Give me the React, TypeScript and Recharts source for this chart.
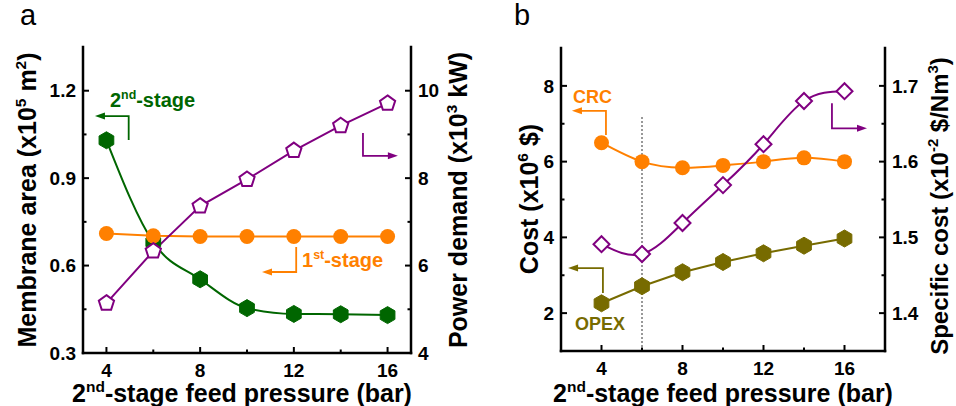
import React from "react";
import { ComposedChart, Line, XAxis, YAxis, ReferenceLine, ReferenceDot } from "recharts";

const FONT = '"Liberation Sans", Arial, Helvetica, sans-serif';

// x values: 2nd-stage feed pressure (bar)
const pressure = [4, 6, 8, 10, 12, 14, 16];
// panel a
const area2nd = [1.03, 0.68, 0.553, 0.454, 0.434, 0.433, 0.43];
const area1st = [0.71, 0.702, 0.7, 0.7, 0.7, 0.7, 0.7];
const power = [5.14, 6.33, 7.36, 7.97, 8.63, 9.2, 9.71];
// panel b
const crc = [6.5, 6.0, 5.84, 5.9, 6.0, 6.1, 6.0];
const opex = [2.26, 2.71, 3.08, 3.35, 3.58, 3.78, 3.97];
const specCost = [1.491, 1.478, 1.519, 1.569, 1.623, 1.68, 1.693];

// ticks
const xTicks = [4, 6, 8, 10, 12, 14, 16];
const xMajor = [4, 8, 12, 16];
const areaTicks = [0.3, 0.45, 0.6, 0.75, 0.9, 1.05, 1.2];
const areaMajor = [0.3, 0.6, 0.9, 1.2];
const powerTicks = [4, 5, 6, 7, 8, 9, 10];
const powerMajor = [4, 6, 8, 10];
const costTicks = [2, 3, 4, 5, 6, 7, 8];
const costMajor = [2, 4, 6, 8];
const specTicks = [1.4, 1.45, 1.5, 1.55, 1.6, 1.65, 1.7];
const specMajor = [1.4, 1.5, 1.6, 1.7];

const GREEN = "#006600";
const ORANGE = "#ff8000";
const PURPLE = "#800080";
const OLIVE = "#776b00";

const rows = pressure.map((p, i) => ({
  p,
  area2nd: area2nd[i],
  area1st: area1st[i],
  power: power[i],
  crc: crc[i],
  opex: opex[i],
  specCost: specCost[i],
}));

type Part = [string, boolean?];

function Rich({ parts, fs }: { parts: Part[]; fs: number }) {
  const shift = fs * 0.4;
  let cur = 0;
  return (
    <>
      {parts.map(([t, s], i) => {
        const target = s ? -shift : 0;
        const dy = target - cur;
        cur = target;
        return (
          <tspan key={i} dy={dy} fontSize={s ? fs * 0.62 : fs}>
            {t}
          </tspan>
        );
      })}
    </>
  );
}

const title = (parts: Part[], x: number, y: number, rotate = false, fs = 25) => () => (
  <text
    x={x}
    y={y}
    textAnchor="middle"
    fontFamily={FONT}
    fontWeight="bold"
    fontSize={fs}
    fill="#000"
    transform={rotate ? `rotate(-90 ${x} ${y})` : undefined}
  >
    <Rich parts={parts} fs={fs} />
  </text>
);

const isIn = (arr: number[], v: number) => arr.some((m) => Math.abs(m - v) < 1e-9);

const makeTick =
  (side: "bottom" | "left" | "right", major: number[], digits: number) => (props: any) => {
    const { x, y, payload } = props;
    const v = payload.value;
    const big = isIn(major, v);
    const len = big ? 6 : 3.5;
    const label = big ? v.toFixed(digits) : "";
    const txt = { fontFamily: FONT, fontWeight: "bold" as const, fontSize: 19, fill: "#000" };
    if (side === "bottom") {
      return (
        <g>
          <line x1={x} x2={x} y1={y} y2={y - len} stroke="#000" strokeWidth={2} />
          <text x={x} y={y + 24} textAnchor="middle" {...txt}>{label}</text>
        </g>
      );
    }
    if (side === "left") {
      return (
        <g>
          <line x1={x} x2={x + len} y1={y} y2={y} stroke="#000" strokeWidth={2} />
          <text x={x - 7} y={y} dy="0.35em" textAnchor="end" {...txt}>{label}</text>
        </g>
      );
    }
    return (
      <g>
        <line x1={x} x2={x - len} y1={y} y2={y} stroke="#000" strokeWidth={2} />
        <text x={x + 7} y={y} dy="0.35em" textAnchor="start" {...txt}>{label}</text>
      </g>
    );
  };

const polyPoints = (cx: number, cy: number, r: number, n: number) =>
  Array.from({ length: n }, (_, k) => {
    const a = -Math.PI / 2 + (k * 2 * Math.PI) / n;
    return `${cx + r * Math.cos(a)},${cy + r * Math.sin(a)}`;
  }).join(" ");

const polyDot = (n: number, r: number, color: string, hollow: boolean) => (props: any) => {
  const { cx, cy, index } = props;
  if (cx == null || cy == null) return <g key={index} />;
  return (
    <polygon
      key={index}
      points={polyPoints(cx, cy, r, n)}
      fill={hollow ? "#fff" : color}
      stroke={color}
      strokeWidth={hollow ? 2 : 1}
      strokeLinejoin="miter"
    />
  );
};

const circleDot = (r: number, color: string) => (props: any) => {
  const { cx, cy, index } = props;
  if (cx == null || cy == null) return <g key={index} />;
  return <circle key={index} cx={cx} cy={cy} r={r} fill={color} />;
};

const arrowShape = (color: string) => (props: any) => {
  const { x1, y1, x2, y2 } = props;
  const dir = x2 > x1 ? 1 : -1;
  return (
    <g>
      <path
        d={`M${x1},${y1} V${y2} H${x2 - dir * 7}`}
        stroke={color}
        strokeWidth={1.8}
        fill="none"
      />
      <path
        d={`M${x2},${y2} L${x2 - dir * 10},${y2 - 3.5} L${x2 - dir * 10},${y2 + 3.5} Z`}
        fill={color}
      />
    </g>
  );
};

const textShape = (parts: Part[], color: string, fs: number) => (props: any) => (
  <text x={props.cx} y={props.cy} fontFamily={FONT} fontWeight="bold" fontSize={fs} fill={color}>
    <Rich parts={parts} fs={fs} />
  </text>
);

const frameLine = { stroke: "#000", strokeWidth: 2.5, strokeLinecap: "square" as const };

function PanelA() {
  return (
    <ComposedChart width={478} height={406} data={rows} margin={{ top: 47, right: 0, bottom: 0, left: 0 }}>
      <XAxis
        dataKey="p"
        type="number"
        domain={[3, 17]}
        ticks={xTicks}
        interval={0}
        height={53}
        tickSize={0}
        tickMargin={0}
        tickLine={false}
        axisLine={frameLine}
        tick={makeTick("bottom", xMajor, 0)}
        label={{ content: title([["2"], ["nd", true], ["-stage feed pressure (bar)"]], 242, 402) }}
      />
      <XAxis xAxisId="top" orientation="top" dataKey="p" type="number" domain={[3, 17]} height={0} tick={false} tickLine={false} axisLine={frameLine} />
      <YAxis
        yAxisId="L"
        type="number"
        domain={[0.3, 1.35]}
        ticks={areaTicks}
        interval={0}
        width={83}
        tickSize={0}
        tickMargin={0}
        tickLine={false}
        axisLine={frameLine}
        tick={makeTick("left", areaMajor, 1)}
        label={{ content: title([["Membrane area (x10"], ["5", true], [" m"], ["2", true], [")"]], 36, 200, true) }}
      />
      <YAxis
        yAxisId="R"
        orientation="right"
        type="number"
        domain={[4, 11]}
        ticks={powerTicks}
        interval={0}
        width={67}
        tickSize={0}
        tickMargin={0}
        tickLine={false}
        axisLine={frameLine}
        tick={makeTick("right", powerMajor, 0)}
        label={{ content: title([["Power demand (x10"], ["3", true], [" kW)"]], 467, 200, true) }}
      />
      <Line yAxisId="L" dataKey="area2nd" type="monotone" stroke={GREEN} strokeWidth={2} dot={polyDot(6, 8.5, GREEN, false)} isAnimationActive={false} />
      <Line yAxisId="L" dataKey="area1st" type="linear" stroke={ORANGE} strokeWidth={2} dot={circleDot(7.5, ORANGE)} isAnimationActive={false} />
      <Line yAxisId="R" dataKey="power" type="linear" stroke={PURPLE} strokeWidth={2} dot={polyDot(5, 8, PURPLE, true)} isAnimationActive={false} />
      <ReferenceLine yAxisId="L" segment={[{ x: 4.95, y: 1.031 }, { x: 3.51, y: 1.113 }]} shape={arrowShape(GREEN)} />
      <ReferenceDot yAxisId="L" x={4.15} y={1.144} shape={textShape([["2"], ["nd", true], ["-stage"]], GREEN, 20)} />
      <ReferenceLine yAxisId="L" segment={[{ x: 12.1, y: 0.664 }, { x: 10.64, y: 0.578 }]} shape={arrowShape(ORANGE)} />
      <ReferenceDot yAxisId="L" x={12.35} y={0.595} shape={textShape([["1"], ["st", true], ["-stage"]], ORANGE, 20)} />
      <ReferenceLine yAxisId="R" segment={[{ x: 14.95, y: 9.03 }, { x: 16.44, y: 8.51 }]} shape={arrowShape(PURPLE)} />
    </ComposedChart>
  );
}

function PanelB() {
  return (
    <ComposedChart width={478} height={406} data={rows} margin={{ top: 48, right: 0, bottom: 0, left: 0 }}>
      <XAxis
        dataKey="p"
        type="number"
        domain={[2, 18]}
        ticks={xTicks}
        interval={0}
        height={55}
        tickSize={0}
        tickMargin={0}
        tickLine={false}
        axisLine={frameLine}
        tick={makeTick("bottom", xMajor, 0)}
        label={{ content: title([["2"], ["nd", true], ["-stage feed pressure (bar)"]], 245, 402) }}
      />
      <XAxis xAxisId="top" orientation="top" dataKey="p" type="number" domain={[2, 18]} height={0} tick={false} tickLine={false} axisLine={frameLine} />
      <YAxis
        yAxisId="L"
        type="number"
        domain={[1, 9]}
        ticks={costTicks}
        interval={0}
        width={83}
        tickSize={0}
        tickMargin={0}
        tickLine={false}
        axisLine={frameLine}
        tick={makeTick("left", costMajor, 0)}
        label={{ content: title([["Cost (x10"], ["6", true], [" $)"]], 60, 199, true) }}
      />
      <YAxis
        yAxisId="R"
        orientation="right"
        type="number"
        domain={[1.35, 1.75]}
        ticks={specTicks}
        interval={0}
        width={71}
        tickSize={0}
        tickMargin={0}
        tickLine={false}
        axisLine={frameLine}
        tick={makeTick("right", specMajor, 1)}
        label={{ content: title([["Specific cost (x10"], ["-2", true], [" $/Nm"], ["3", true], [")"]], 470, 206, true, 24) }}
      />
      <ReferenceLine yAxisId="L" segment={[{ x: 6, y: 1 }, { x: 6, y: 7.2 }]} stroke="#777" strokeWidth={1.5} strokeDasharray="2 2" />
      <Line yAxisId="L" dataKey="opex" type="linear" stroke={OLIVE} strokeWidth={2} dot={polyDot(6, 8.5, OLIVE, false)} isAnimationActive={false} />
      <Line yAxisId="L" dataKey="crc" type="natural" stroke={ORANGE} strokeWidth={2} dot={circleDot(7.5, ORANGE)} isAnimationActive={false} />
      <Line yAxisId="R" dataKey="specCost" type="natural" stroke={PURPLE} strokeWidth={2} dot={polyDot(4, 8, PURPLE, true)} isAnimationActive={false} />
      <ReferenceLine yAxisId="L" segment={[{ x: 4.22, y: 6.7 }, { x: 2.54, y: 7.34 }]} shape={arrowShape(ORANGE)} />
      <ReferenceDot yAxisId="L" x={2.59} y={7.55} shape={textShape([["CRC"]], ORANGE, 18)} />
      <ReferenceLine yAxisId="L" segment={[{ x: 4.07, y: 2.53 }, { x: 2.35, y: 3.19 }]} shape={arrowShape(OLIVE)} />
      <ReferenceDot yAxisId="L" x={2.69} y={1.55} shape={textShape([["OPEX"]], OLIVE, 18)} />
      <ReferenceLine yAxisId="R" segment={[{ x: 15.38, y: 1.677 }, { x: 17.11, y: 1.644 }]} shape={arrowShape(PURPLE)} />
    </ComposedChart>
  );
}

export default function App() {
  const letter = { position: "absolute" as const, top: 0, fontFamily: FONT, fontSize: 29, lineHeight: "40px" };
  return (
    <div style={{ position: "absolute", left: 0, top: 0, width: 956, height: 406, background: "#fff", overflow: "hidden" }}>
      <div style={{ position: "absolute", left: 0, top: 0 }}>
        <PanelA />
      </div>
      <div style={{ position: "absolute", left: 478, top: 0 }}>
        <PanelB />
      </div>
      <div style={{ ...letter, left: 20, top: -5 }}>a</div>
      <div style={{ ...letter, left: 514, top: -5 }}>b</div>
    </div>
  );
}
